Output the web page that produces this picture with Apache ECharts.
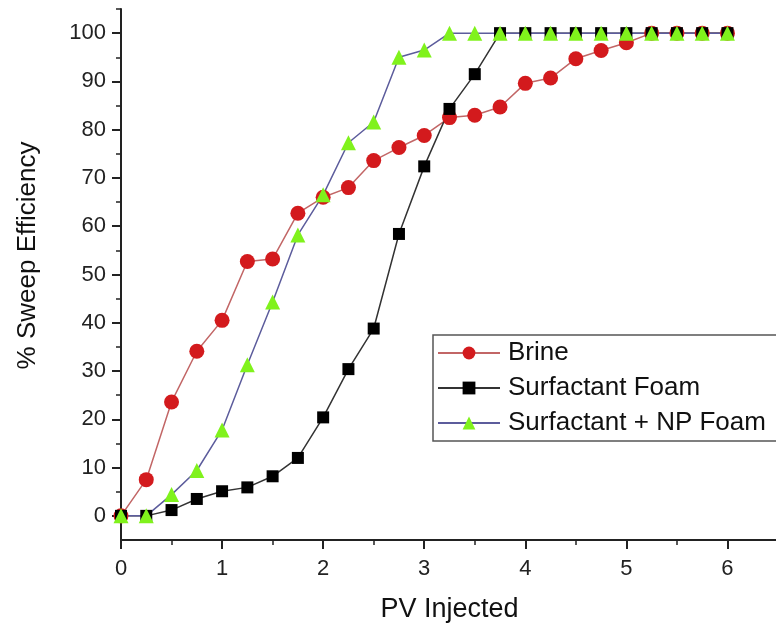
<!DOCTYPE html>
<html>
<head>
<meta charset="utf-8">
<script src="https://cdn.jsdelivr.net/npm/echarts@6/dist/echarts.min.js"></script>
<style>
  html, body { margin: 0; padding: 0; background: #fff; }
  #chart { width: 776px; height: 624px; }
</style>
</head>
<body>
<div id="chart"></div>
<script>
// PV injected (x) and % sweep efficiency for each injection type
const pvInjected = [0, 0.25, 0.5, 0.75, 1, 1.25, 1.5, 1.75, 2, 2.25, 2.5, 2.75, 3, 3.25, 3.5, 3.75, 4, 4.25, 4.5, 4.75, 5, 5.25, 5.5, 5.75, 6];
const brine = [0, 7.5, 23.6, 34.1, 40.5, 52.7, 53.2, 62.7, 66, 68, 73.6, 76.3, 78.8, 82.5, 83, 84.7, 89.6, 90.7, 94.7, 96.4, 98, 100, 100, 100, 100];
const surfactantFoam = [0, 0, 1.2, 3.5, 5.1, 5.9, 8.2, 12, 20.4, 30.4, 38.8, 58.4, 72.4, 84.3, 91.5, 100, 100, 100, 100, 100, 100, 100, 100, 100, 100];
const npFoam = [0, 0, 4.4, 9.4, 17.8, 31.3, 44.3, 58.2, 66.5, 77.3, 81.6, 95, 96.5, 100, 100, 100, 100, 100, 100, 100, 100, 100, 100, 100, 100];

const xMajorTicks = [0, 1, 2, 3, 4, 5, 6];
const xMinorTicks = [0.5, 1.5, 2.5, 3.5, 4.5, 5.5, 6.5];
const yMajorTicks = [0, 10, 20, 30, 40, 50, 60, 70, 80, 90, 100];
const yMinorTicks = [5, 15, 25, 35, 45, 55, 65, 75, 85, 95, 105];

const pairs = (ys) => pvInjected.map((x, i) => [x, ys[i]]);

const FONT = 'Liberation Sans, Arial, sans-serif';
const AXIS_COLOR = '#222';

const chart = echarts.init(document.getElementById('chart'));

// second pair of axes only draws the short minor ticks
const minorX = {
  type: 'value', min: 0, max: 6.5, position: 'bottom', gridIndex: 0,
  axisLine: { show: false, onZero: false },
  axisLabel: { show: false },
  splitLine: { show: false },
  axisTick: { show: true, length: 5, customValues: xMinorTicks, lineStyle: { color: AXIS_COLOR, width: 1.5 } }
};
const minorY = {
  type: 'value', min: -5, max: 105, position: 'left', gridIndex: 0,
  axisLine: { show: false, onZero: false },
  axisLabel: { show: false },
  splitLine: { show: false },
  axisTick: { show: true, length: 5, customValues: yMinorTicks, lineStyle: { color: AXIS_COLOR, width: 1.5 } }
};

chart.setOption({
  animation: false,
  backgroundColor: '#fff',
  textStyle: { fontFamily: FONT },
  grid: { left: 121, top: 9, bottom: 84, right: -2, containLabel: false, outerBoundsMode: 'none' },
  legend: {
    orient: 'vertical',
    left: 433, top: 335,
    padding: [5, 40, 5, 4],
    itemGap: 9,
    itemWidth: 62, itemHeight: 16,
    borderColor: '#555', borderWidth: 1.5,
    textStyle: { fontSize: 26, color: '#111', fontFamily: FONT, padding: [0, 0, 0, 3] },
    data: ['Brine', 'Surfactant Foam', 'Surfactant + NP Foam']
  },
  xAxis: [{
    type: 'value', min: 0, max: 6.5,
    name: 'PV Injected', nameLocation: 'middle', nameGap: 56,
    nameTextStyle: { fontSize: 27, color: '#111', fontFamily: FONT },
    axisLine: { show: true, onZero: false, lineStyle: { color: AXIS_COLOR, width: 2 } },
    axisTick: { show: true, length: 9, customValues: xMajorTicks, lineStyle: { color: AXIS_COLOR, width: 2 } },
    axisLabel: { customValues: xMajorTicks, fontSize: 22, color: '#222', margin: 18, fontFamily: FONT },
    splitLine: { show: false }
  }, minorX],
  yAxis: [{
    type: 'value', min: -5, max: 105,
    name: '% Sweep Efficiency', nameLocation: 'middle', nameGap: 80,
    nameTextStyle: { fontSize: 26, color: '#111', fontFamily: FONT, padding: [0, 0, 0, 38] },
    axisLine: { show: true, onZero: false, lineStyle: { color: AXIS_COLOR, width: 2 } },
    axisTick: { show: true, length: 9, customValues: yMajorTicks, lineStyle: { color: AXIS_COLOR, width: 2 } },
    axisLabel: { customValues: yMajorTicks, fontSize: 22, color: '#222', margin: 15, fontFamily: FONT },
    splitLine: { show: false }
  }, minorY],
  series: [
    {
      name: 'Brine', type: 'line', data: pairs(brine),
      symbol: 'circle', symbolSize: 15,
      itemStyle: { color: '#d31a1d' },
      lineStyle: { color: '#c26666', width: 1.5 }
    },
    {
      name: 'Surfactant Foam', type: 'line', data: pairs(surfactantFoam),
      symbol: 'rect', symbolSize: 12,
      itemStyle: { color: '#000' },
      lineStyle: { color: '#333', width: 1.5 }
    },
    {
      name: 'Surfactant + NP Foam', type: 'line', data: pairs(npFoam),
      symbol: 'triangle', symbolSize: 15,
      itemStyle: { color: '#80f21c' },
      lineStyle: { color: '#5c5c9c', width: 1.5 }
    }
  ]
});
</script>
</body>
</html>
